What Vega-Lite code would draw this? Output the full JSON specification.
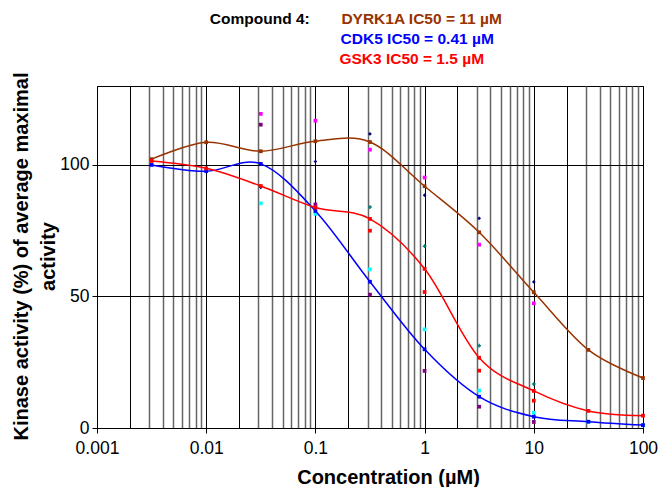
{
  "$schema": "https://vega.github.io/schema/vega-lite/v6.json",
  "autosize": "none",
  "width": 546,
  "height": 342,
  "padding": {"left": 97, "top": 86, "right": 17, "bottom": 59},
  "background": "white",
  "config": {
    "font": "Liberation Sans",
    "view": {"stroke": "black", "strokeWidth": 1, "fill": "white"}
  },
  "datasets": {
    "means": [
      {"series": "DYRK1A", "conc": 0.00316, "activity": 102.2},
      {"series": "DYRK1A", "conc": 0.01, "activity": 108.6},
      {"series": "DYRK1A", "conc": 0.0316, "activity": 105.2},
      {"series": "DYRK1A", "conc": 0.1, "activity": 109.0},
      {"series": "DYRK1A", "conc": 0.316, "activity": 108.7},
      {"series": "DYRK1A", "conc": 1, "activity": 91.9},
      {"series": "DYRK1A", "conc": 3.16, "activity": 74.4},
      {"series": "DYRK1A", "conc": 10, "activity": 51.6},
      {"series": "DYRK1A", "conc": 31.6, "activity": 29.7},
      {"series": "DYRK1A", "conc": 100, "activity": 19.0},
      {"series": "CDK5", "conc": 0.00316, "activity": 100.0},
      {"series": "CDK5", "conc": 0.01, "activity": 97.6},
      {"series": "CDK5", "conc": 0.0316, "activity": 100.4},
      {"series": "CDK5", "conc": 0.1, "activity": 82.5},
      {"series": "CDK5", "conc": 0.316, "activity": 55.6},
      {"series": "CDK5", "conc": 1, "activity": 29.9},
      {"series": "CDK5", "conc": 3.16, "activity": 11.9},
      {"series": "CDK5", "conc": 10, "activity": 4.3},
      {"series": "CDK5", "conc": 31.6, "activity": 2.4},
      {"series": "CDK5", "conc": 100, "activity": 1.1},
      {"series": "GSK3", "conc": 0.00316, "activity": 101.5},
      {"series": "GSK3", "conc": 0.01, "activity": 98.7},
      {"series": "GSK3", "conc": 0.0316, "activity": 92.0},
      {"series": "GSK3", "conc": 0.1, "activity": 83.8},
      {"series": "GSK3", "conc": 0.316, "activity": 79.5},
      {"series": "GSK3", "conc": 1, "activity": 60.5},
      {"series": "GSK3", "conc": 3.16, "activity": 26.7},
      {"series": "GSK3", "conc": 10, "activity": 14.1},
      {"series": "GSK3", "conc": 31.6, "activity": 6.5},
      {"series": "GSK3", "conc": 100, "activity": 4.7}
    ],
    "reps": [
      {"series": "DYRK1A rep 1", "conc": 0.0316, "activity": 91.5},
      {"series": "DYRK1A rep 1", "conc": 0.1, "activity": 101.3},
      {"series": "DYRK1A rep 1", "conc": 0.316, "activity": 111.8},
      {"series": "DYRK1A rep 1", "conc": 1, "activity": 88.5},
      {"series": "DYRK1A rep 1", "conc": 3.16, "activity": 79.7},
      {"series": "DYRK1A rep 1", "conc": 10, "activity": 55.5},
      {"series": "DYRK1A rep 2", "conc": 0.0316, "activity": 119.4},
      {"series": "DYRK1A rep 2", "conc": 0.1, "activity": 116.8},
      {"series": "DYRK1A rep 2", "conc": 0.316, "activity": 105.8},
      {"series": "DYRK1A rep 2", "conc": 1, "activity": 95.2},
      {"series": "DYRK1A rep 2", "conc": 3.16, "activity": 69.7},
      {"series": "DYRK1A rep 2", "conc": 10, "activity": 47.4},
      {"series": "CDK5 rep 1", "conc": 0.0316, "activity": 85.4},
      {"series": "CDK5 rep 1", "conc": 0.1, "activity": 81.4},
      {"series": "CDK5 rep 1", "conc": 0.316, "activity": 60.3},
      {"series": "CDK5 rep 1", "conc": 1, "activity": 37.5},
      {"series": "CDK5 rep 1", "conc": 3.16, "activity": 14.2},
      {"series": "CDK5 rep 1", "conc": 10, "activity": 5.8},
      {"series": "CDK5 rep 1", "conc": 31.6, "activity": 2.3},
      {"series": "CDK5 rep 1", "conc": 100, "activity": 1.0},
      {"series": "CDK5 rep 2", "conc": 0.0316, "activity": 115.3},
      {"series": "CDK5 rep 2", "conc": 0.1, "activity": 85.0},
      {"series": "CDK5 rep 2", "conc": 0.316, "activity": 50.7},
      {"series": "CDK5 rep 2", "conc": 1, "activity": 21.7},
      {"series": "CDK5 rep 2", "conc": 3.16, "activity": 8.1},
      {"series": "CDK5 rep 2", "conc": 10, "activity": 2.3},
      {"series": "GSK3 rep 1", "conc": 0.316, "activity": 84.0},
      {"series": "GSK3 rep 1", "conc": 1, "activity": 69.1},
      {"series": "GSK3 rep 1", "conc": 3.16, "activity": 31.3},
      {"series": "GSK3 rep 1", "conc": 10, "activity": 16.7},
      {"series": "GSK3 rep 2", "conc": 0.316, "activity": 75.0},
      {"series": "GSK3 rep 2", "conc": 1, "activity": 51.7},
      {"series": "GSK3 rep 2", "conc": 3.16, "activity": 21.8},
      {"series": "GSK3 rep 2", "conc": 10, "activity": 10.4}
    ],
    "header": [
      {"label": "Compound 4:", "series": "Compound", "conc": 0.0108, "activity": 155.5},
      {"label": "DYRK1A IC50 = 11 µM", "series": "DYRK1A", "conc": 0.173, "activity": 155.5},
      {"label": "CDK5 IC50 = 0.41 µM", "series": "CDK5", "conc": 0.17, "activity": 147.9},
      {"label": "GSK3 IC50 = 1.5 µM", "series": "GSK3", "conc": 0.166, "activity": 140.3}
    ]
  },
  "layer": [
    {
      "data": {"name": "reps"},
      "mark": {"type": "point", "filled": true, "size": 14, "opacity": 1},
      "encoding": {
        "x": {
          "field": "conc",
          "type": "quantitative",
          "scale": {"type": "log", "domain": [0.001, 100], "nice": false},
          "axis": {
            "values": [0.001, 0.002, 0.003, 0.004, 0.005, 0.006, 0.007, 0.008, 0.009,
                       0.01, 0.02, 0.03, 0.04, 0.05, 0.06, 0.07, 0.08, 0.09,
                       0.1, 0.2, 0.3, 0.4, 0.5, 0.6, 0.7, 0.8, 0.9,
                       1, 2, 3, 4, 5, 6, 7, 8, 9,
                       10, 20, 30, 40, 50, 60, 70, 80, 90, 100],
            "format": "~g",
            "labelExpr": "round(datum.value / pow(10, floor(log(datum.value) / LN10 + 0.000001))) == 1 ? datum.label : ''",
            "labelOverlap": false,
            "labelFlush": false,
            "labelFontSize": 17.5,
            "labelColor": "black",
            "labelPadding": 6,
            "grid": true,
            "gridColor": {"condition": {"test": "round(datum.value / pow(10, floor(log(datum.value) / LN10 + 0.000001))) <= 2", "value": "#000000"}, "value": "#666666"},
            "gridWidth": {"condition": {"test": "round(datum.value / pow(10, floor(log(datum.value) / LN10 + 0.000001))) <= 2", "value": 1}, "value": 1.5},
            "gridOpacity": 1,
            "tickColor": "black",
            "tickSize": 5,
            "tickOpacity": {"condition": {"test": "round(datum.value / pow(10, floor(log(datum.value) / LN10 + 0.000001))) == 1", "value": 1}, "value": 0},
            "domainColor": "black",
            "title": "Concentration (µM)",
            "titleFontSize": 20,
            "titleFontWeight": "bold",
            "titleColor": "black",
            "titleAlign": "center",
            "titleBaseline": "alphabetic",
            "titleX": 291,
            "titleY": 55
          }
        },
        "y": {
          "field": "activity",
          "type": "quantitative",
          "scale": {"domain": [0, 130], "nice": false},
          "axis": {
            "values": [0, 50, 100],
            "labelFontSize": 17.5,
            "labelColor": "black",
            "labelPadding": 3,
            "grid": true,
            "gridColor": "black",
            "gridOpacity": 1,
            "tickColor": "black",
            "tickSize": 5,
            "domainColor": "black",
            "title": ["Kinase activity (%) of average maximal", "activity"],
            "titleFontSize": 20,
            "titleFontWeight": "bold",
            "titleColor": "black",
            "titleLineHeight": 27,
            "titleAngle": 270,
            "titleAlign": "center",
            "titleBaseline": "alphabetic",
            "titleX": -70,
            "titleY": 170
          }
        },
        "color": {
          "field": "series",
          "type": "nominal",
          "scale": {
            "domain": ["DYRK1A", "CDK5", "GSK3", "Compound", "DYRK1A rep 1", "DYRK1A rep 2", "CDK5 rep 1", "CDK5 rep 2", "GSK3 rep 1", "GSK3 rep 2"],
            "range": ["#993300", "#0000FF", "#FF0000", "#000000", "#000080", "#FF00FF", "#00FFFF", "#800080", "#008080", "#FF0000"]
          },
          "legend": null
        },
        "shape": {
          "field": "series",
          "type": "nominal",
          "scale": {
            "domain": ["DYRK1A rep 1", "DYRK1A rep 2", "CDK5 rep 1", "CDK5 rep 2", "GSK3 rep 1", "GSK3 rep 2"],
            "range": ["diamond", "square", "square", "square", "cross", "square"]
          },
          "legend": null
        }
      }
    },
    {
      "data": {"name": "means"},
      "mark": {"type": "line", "interpolate": "cardinal", "strokeWidth": 1.5},
      "encoding": {
        "x": {"field": "conc", "type": "quantitative"},
        "y": {"field": "activity", "type": "quantitative"},
        "color": {"field": "series", "type": "nominal", "legend": null}
      }
    },
    {
      "data": {"name": "means"},
      "mark": {"type": "square", "size": 14, "opacity": 1},
      "encoding": {
        "x": {"field": "conc", "type": "quantitative"},
        "y": {"field": "activity", "type": "quantitative"},
        "color": {"field": "series", "type": "nominal", "legend": null}
      }
    },
    {
      "data": {"name": "header"},
      "mark": {"type": "text", "align": "left", "baseline": "middle", "fontSize": 15.5, "fontWeight": "bold"},
      "encoding": {
        "x": {"field": "conc", "type": "quantitative"},
        "y": {"field": "activity", "type": "quantitative"},
        "color": {"field": "series", "type": "nominal", "legend": null},
        "text": {"field": "label"}
      }
    }
  ]
}
